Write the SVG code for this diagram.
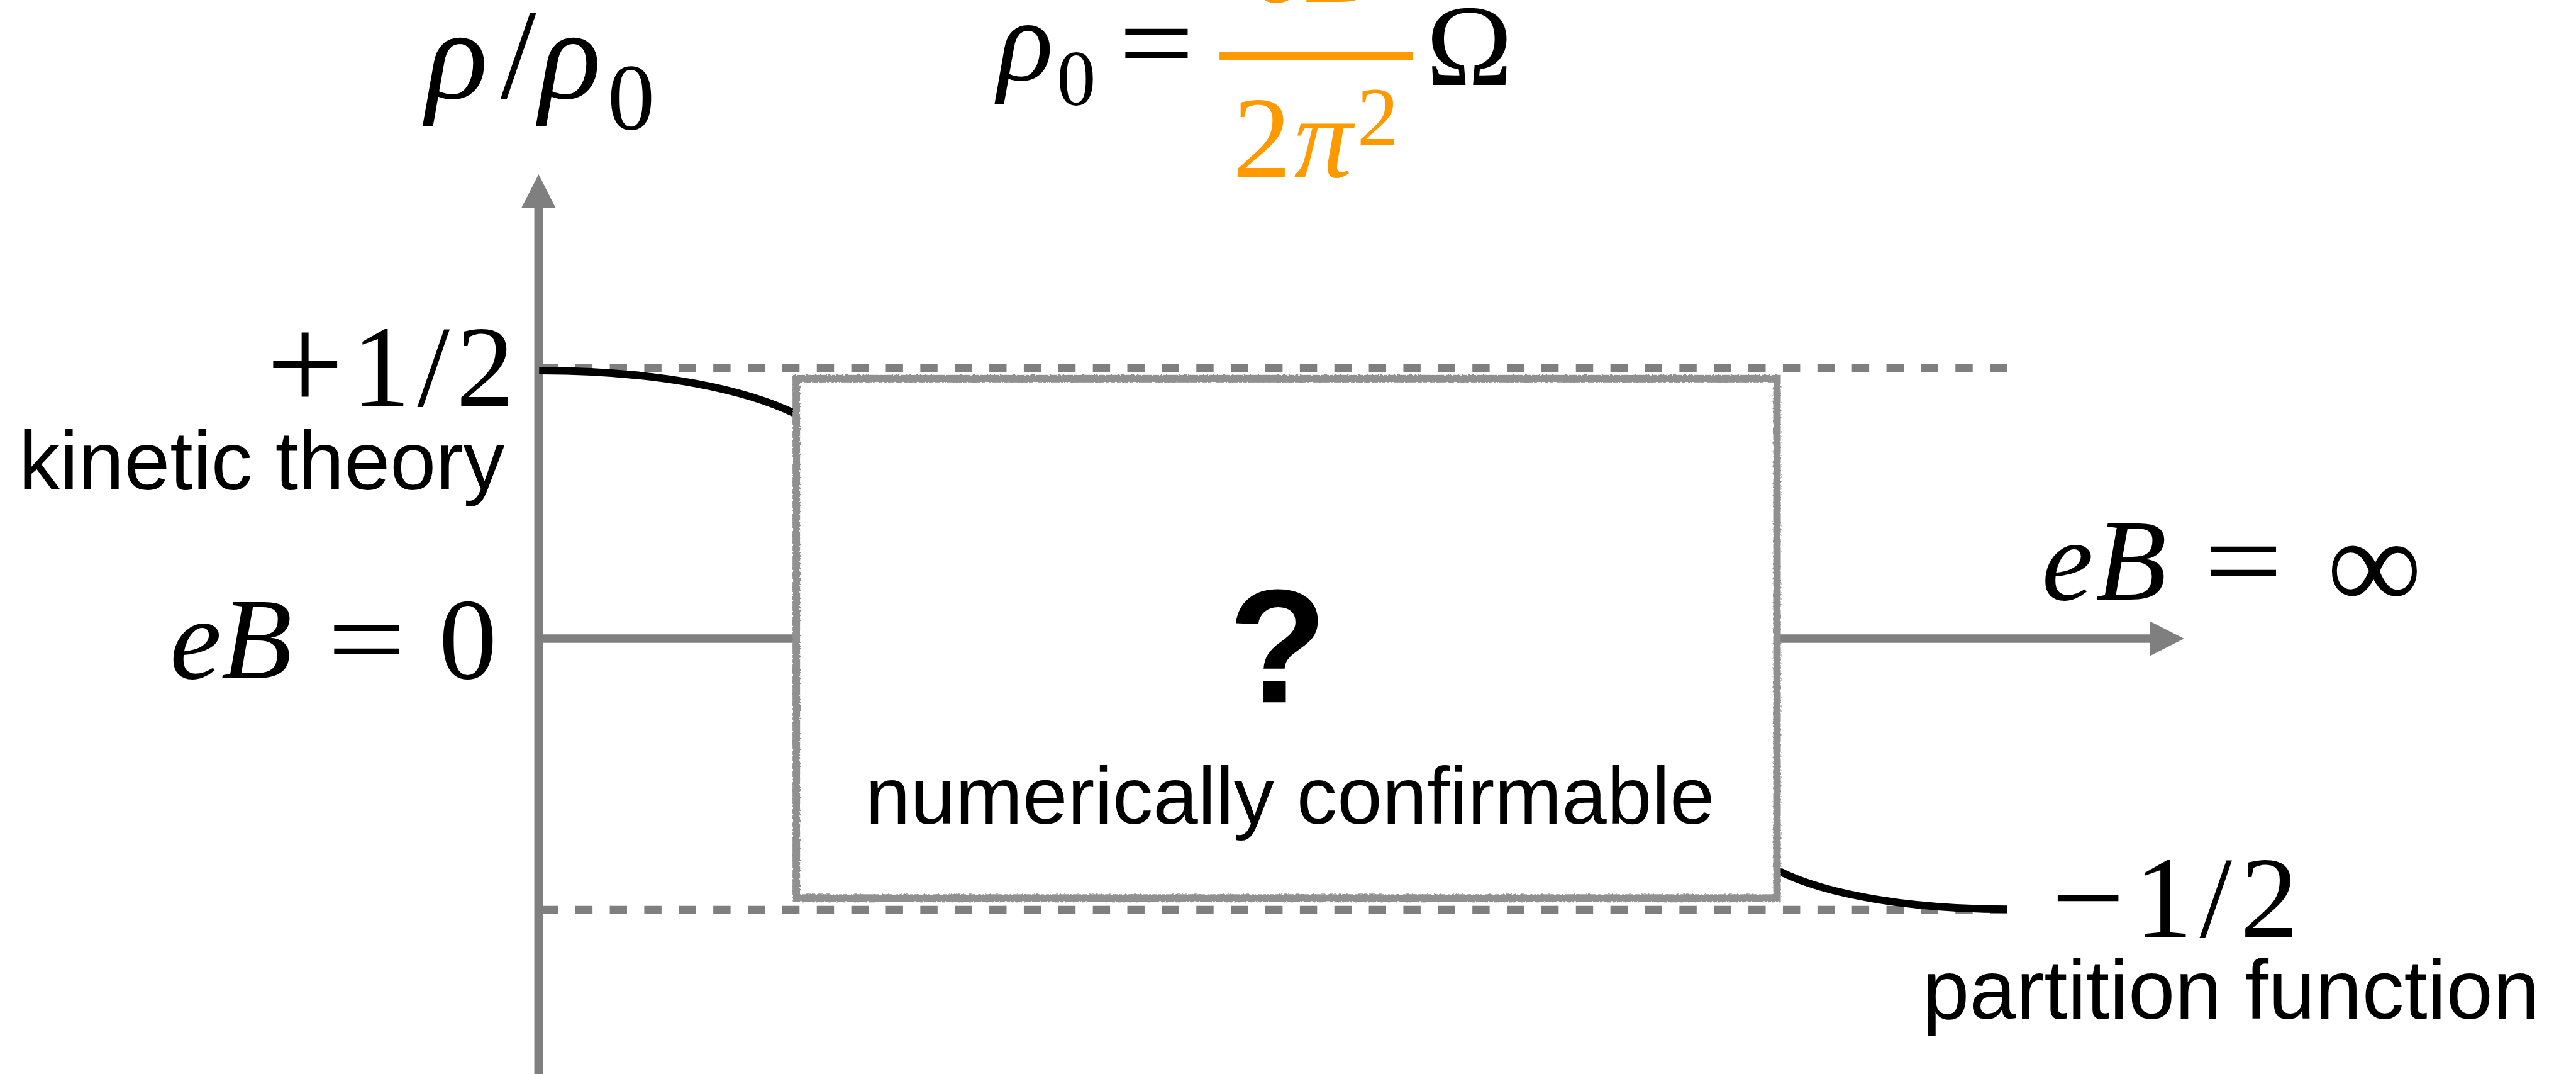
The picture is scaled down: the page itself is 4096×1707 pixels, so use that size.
<svg xmlns="http://www.w3.org/2000/svg" width="4096" height="1707" viewBox="0 0 4096 1707">
  <style>
    .math { font-family: "Liberation Serif", "Times New Roman", serif; fill: #000; }
    .it { font-style: italic; }
    .sans { font-family: "Liberation Sans", Arial, sans-serif; fill: #000; }
    .orange { fill: #FF9900; }
    .axis { stroke: #7f7f7f; stroke-width: 16; fill: none; }
    .dash { stroke: #7f7f7f; stroke-width: 15; fill: none; stroke-dasharray: 32 32; }
    .curve { stroke: #000; stroke-width: 14; fill: none; }
    .box { fill: #fff; stroke: #909090; stroke-width: 14; }
  </style>
  <defs>
    <marker id="arrow" markerUnits="userSpaceOnUse" markerWidth="64" markerHeight="64" viewBox="0 0 63 64" refX="0" refY="32" orient="auto">
      <path d="M0,0 L63,32 L0,64 Z" fill="#7f7f7f"/>
    </marker>
    <filter id="rough" x="-5%" y="-5%" width="110%" height="110%">
      <feTurbulence type="fractalNoise" baseFrequency="0.25" numOctaves="2" seed="3" result="n"/>
      <feDisplacementMap in="SourceGraphic" in2="n" scale="5" xChannelSelector="R" yChannelSelector="G"/>
    </filter>
  </defs>
  <rect width="4096" height="1707" fill="#fff"/>
  <g transform="scale(0.85726)">
    <g id="connectors">
      <path class="dash" d="M1003,682 H3724"/>
      <path class="dash" d="M1003,1687 H3724"/>
      <path class="axis" d="M999,2000 V386" marker-end="url(#arrow)"/>
      <path class="axis" d="M999,1184 H3988" marker-end="url(#arrow)"/>
      <path id="curve-upper" class="curve" d="M1000,687 C1230,687 1390,725 1477,768"/>
      <path id="curve-lower" class="curve" d="M3296,1613 C3390,1662 3560,1686 3723,1686"/>
    </g>
    <g id="box">
      <rect class="box" x="1477" y="702" width="1819" height="963" filter="url(#rough)"/>
      <text class="sans" x="2370" y="1302" font-size="300" font-weight="bold" text-anchor="middle">?</text>
      <text class="sans" x="1605" y="1527" font-size="150">numerically confirmable</text>
    </g>
    <g id="y-label">
      <text class="math" font-size="240" y="182"><tspan class="it" x="790">ρ</tspan><tspan x="928">/</tspan><tspan class="it" x="1000">ρ</tspan></text>
      <text class="math" font-size="175" x="1127" y="240">0</text>
    </g>
    <g id="rho0-formula">
      <text class="math it" font-size="216" x="1850" y="148">ρ</text>
      <text class="math" font-size="145" x="1960" y="195">0</text>
      <text class="math" font-size="216" transform="translate(2075,152) scale(1.15,1)">=</text>
      <text class="math orange it" font-size="216" x="2325" y="3">eB</text>
      <rect x="2262" y="96" width="359" height="15" fill="#FF9900"/>
      <text class="math orange" font-size="216" y="328"><tspan x="2287">2</tspan><tspan class="it" x="2400">π</tspan></text>
      <text class="math orange" font-size="155" x="2517" y="269">2</text>
      <text class="math" font-size="216" x="2645" y="158">Ω</text>
    </g>
    <g id="plus-half">
      <text class="math" font-size="255" x="494" y="760">+</text>
      <text class="math" font-size="216" y="752"><tspan x="653">1</tspan><tspan x="774">/</tspan><tspan x="846">2</tspan></text>
      <text class="sans" x="936" y="908" font-size="153" text-anchor="end">kinetic theory</text>
    </g>
    <g id="eB-zero">
      <text class="math" font-size="216" y="1257"><tspan class="it" x="315">e</tspan><tspan class="it" x="410">B</tspan><tspan x="814">0</tspan></text>
      <text class="math" font-size="216" transform="translate(607,1257) scale(1.2,1)">=</text>
    </g>
    <g id="eB-infinity">
      <text class="math" font-size="216" y="1112"><tspan class="it" x="3787">e</tspan><tspan class="it" x="3887">B</tspan></text>
      <text class="math" font-size="216" transform="translate(4088,1112) scale(1.2,1)">=</text>
      <text class="math" font-size="247" x="4316" y="1130">∞</text>
    </g>
    <g id="minus-half">
      <text class="math" font-size="216" transform="translate(3805,1737) scale(1.12,1)">−</text>
      <text class="math" font-size="216" y="1737"><tspan x="3959">1</tspan><tspan x="4080">/</tspan><tspan x="4155">2</tspan></text>
      <text class="sans" x="3566" y="1889" font-size="156">partition function</text>
    </g>
  </g>
</svg>
